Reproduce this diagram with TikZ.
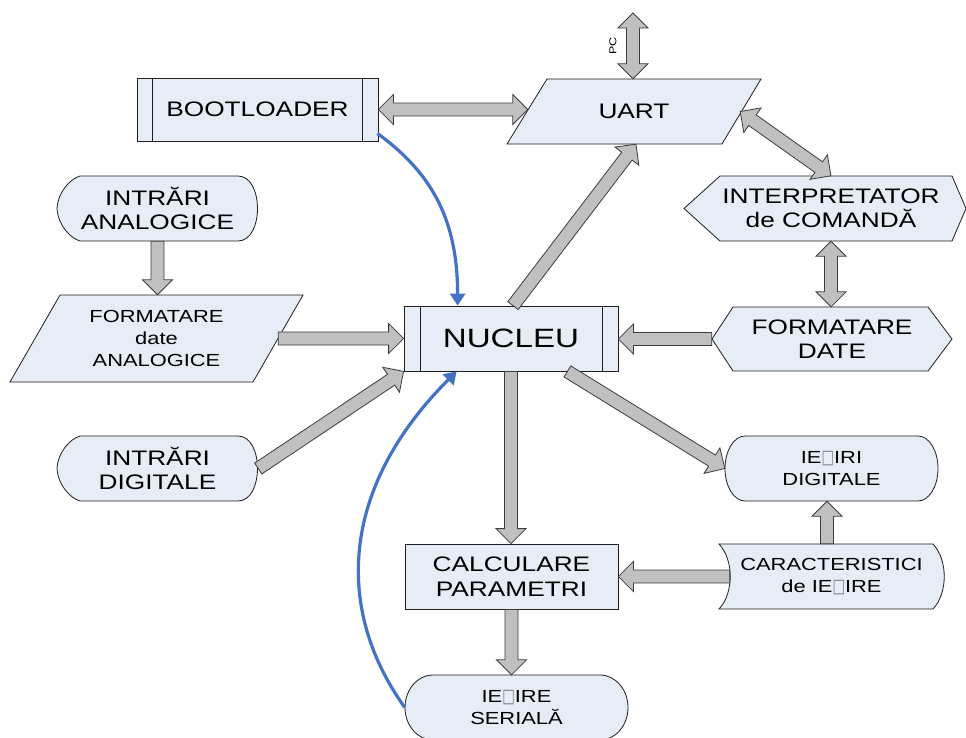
\documentclass[tikz,border=0pt]{standalone}
\usepackage{fontspec}
\setmainfont{Liberation Sans}[FakeStretch=1.25]
\newfontfamily\symfont{DejaVu Sans}
\usetikzlibrary{calc,arrows.meta}

\definecolor{boxfill}{RGB}{231,237,247}
\definecolor{boxline}{RGB}{30,30,30}
\definecolor{arrfill}{RGB}{192,192,192}
\definecolor{arrline}{RGB}{60,60,60}
\definecolor{flowblue}{RGB}{68,114,196}

\newcommand\bigtext{\fontsize{21pt}{24.5pt}\selectfont}
\newcommand\smalltext{\fontsize{17.5pt}{22pt}\selectfont}
\newcommand\nuctext{\fontsize{26.5pt}{30pt}\selectfont}
\newcommand\tinytext{\fontsize{10pt}{11pt}\selectfont}
% missing-glyph box as printed in the labels
\newcommand\gl{{\symfont\fontsize{19pt}{19pt}\selectfont\color{gray}\raisebox{0.5pt}{\scalebox{0.7}[1]{□}}}}

% block arrow geometry: shaft half width, head half width, head length
\def\sw{6.5}
\def\hw{15}
\def\hl{15}

% fat single-headed arrow from #1 to #2
\newcommand\blockarrow[2]{%
  \path let \p1=(#1), \p2=(#2),
    \n1={atan2(\y2-\y1,\x2-\x1)}, \n2={veclen(\x2-\x1,\y2-\y1)} in
    \pgfextra{\xdef\baX{\x1}\xdef\baY{\y1}\xdef\baA{\n1}\xdef\baL{\n2}};
  \draw[blk, shift={(\baX,\baY)}, rotate=\baA]
    (0,-\sw) -- ({\baL-\hl},-\sw) -- ({\baL-\hl},-\hw) -- ({\baL},0)
    -- ({\baL-\hl},\hw) -- ({\baL-\hl},\sw) -- (0,\sw) -- cycle;
}
% fat double-headed arrow between #1 and #2
\newcommand\blockarrowtwo[2]{%
  \path let \p1=(#1), \p2=(#2),
    \n1={atan2(\y2-\y1,\x2-\x1)}, \n2={veclen(\x2-\x1,\y2-\y1)} in
    \pgfextra{\xdef\baX{\x1}\xdef\baY{\y1}\xdef\baA{\n1}\xdef\baL{\n2}};
  \draw[blk, shift={(\baX,\baY)}, rotate=\baA]
    (0,0) -- (\hl,\hw) -- (\hl,\sw) -- ({\baL-\hl},\sw) -- ({\baL-\hl},\hw)
    -- ({\baL},0) -- ({\baL-\hl},-\hw) -- ({\baL-\hl},-\sw) -- (\hl,-\sw)
    -- (\hl,-\hw) -- cycle;
}

\begin{document}
\begin{tikzpicture}[x=1pt, y=1pt,
  shp/.style={draw=boxline, fill=boxfill, line width=0.8pt, line join=miter},
  box/.style={shp, inner sep=0pt, align=center},
  txt/.style={inner sep=0pt, align=center},
  blk/.style={draw=arrline, fill=arrfill, line width=0.8pt, line join=miter},
  flow/.style={draw=flowblue, line width=3.2pt, -{Triangle[length=12pt,width=15pt]}}]

\fill[white] (0,0) rectangle (966,-737);
\useasboundingbox (0,0) rectangle (966,-737);

% ---------- outlines of the flowchart symbols ----------
% UART (data parallelogram)
\draw[shp] (507,-144) -- (722,-144) -- (761,-79) -- (547,-79) -- cycle;
% command interpreter (preparation hexagon)
\draw[shp] (684,-208.5) -- (720,-176) -- (952,-176) -- (966,-208.5)
  -- (952,-241) -- (720,-241) -- cycle;
% data formatting hexagon
\draw[shp] (712,-339) -- (733,-307) -- (928,-307) -- (952,-339)
  -- (928,-371) -- (733,-371) -- cycle;
% analog data formatting parallelogram
\draw[shp] (10,-382) -- (253,-382) -- (303,-295) -- (60,-295) -- cycle;
% analog inputs (display symbol)
\draw[shp] (80,-176) -- (238,-176) .. controls (264,-176) and (264,-241) .. (238,-241)
  -- (80,-241) .. controls (70,-238) and (58,-225) .. (57,-208.5)
  .. controls (58,-192) and (70,-179) .. (80,-176) -- cycle;
% digital inputs (display symbol)
\draw[shp] (80,-436) -- (238,-436) .. controls (264,-436) and (264,-501) .. (238,-501)
  -- (80,-501) .. controls (70,-498) and (58,-485) .. (57,-468.5)
  .. controls (58,-452) and (70,-439) .. (80,-436) -- cycle;
% digital outputs (terminator)
\draw[shp] (745,-436) -- (918,-436)
  arc[start angle=90, end angle=-90, x radius=20, y radius=32.5]
  -- (745,-501) arc[start angle=270, end angle=90, x radius=20, y radius=32.5] -- cycle;
% output characteristics (stored data)
\draw[shp] (719,-544) -- (933,-544) .. controls (948,-560) and (948,-593) .. (933,-609)
  -- (719,-609) .. controls (734,-593) and (734,-560) .. (719,-544) -- cycle;
% serial output (terminator)
\draw[shp] (433,-675) -- (600,-675)
  arc[start angle=90, end angle=-90, x radius=28, y radius=32.5]
  -- (433,-740) arc[start angle=270, end angle=90, x radius=28, y radius=32.5] -- cycle;

% ---------- nodes ----------
\node[box, minimum width=241pt, minimum height=63pt, font=\bigtext] (boot) at (257.5,-109.5) {BOOTLOADER};
\draw[boxline, line width=0.8pt] ([xshift=16pt]boot.north west) -- ([xshift=16pt]boot.south west)
  ([xshift=-16pt]boot.north east) -- ([xshift=-16pt]boot.south east);

\node[txt, minimum width=254pt, minimum height=65pt, font=\bigtext] (uart) at (634,-111.5) {UART};

\node[txt, minimum width=294pt, minimum height=65pt, font=\bigtext] (interp) at (831,-208.5)
  {INTERPRETATOR\\de COMANDĂ};

\node[txt, minimum width=240pt, minimum height=64pt, font=\bigtext] (fdate) at (832,-339)
  {FORMATARE\\DATE};

\node[box, minimum width=214pt, minimum height=65pt, font=\nuctext] (nuc) at (511,-338.5) {NUCLEU};
\draw[boxline, line width=0.8pt] ([xshift=17pt]nuc.north west) -- ([xshift=17pt]nuc.south west)
  ([xshift=-16pt]nuc.north east) -- ([xshift=-16pt]nuc.south east);

\node[txt, minimum width=201pt, minimum height=65pt, font=\bigtext] (ian) at (157.5,-208.5)
  {INTRĂRI\\ANALOGICE};

\node[txt, minimum width=293pt, minimum height=87pt, font=\smalltext] (fan) at (156.5,-338.5)
  {FORMATARE\\date\\ANALOGICE};

\node[txt, minimum width=201pt, minimum height=65pt, font=\bigtext] (idig) at (157.5,-468.5)
  {INTRĂRI\\DIGITALE};

\node[txt, minimum width=213pt, minimum height=65pt, font=\smalltext] (odig) at (831.5,-468.5)
  {IE\gl IRI\\DIGITALE};

\node[txt, minimum width=225pt, minimum height=65pt, font=\smalltext] (car) at (831.5,-576.5)
  {CARACTERISTICI\\de IE\gl IRE};

\node[box, minimum width=213pt, minimum height=65pt, font=\bigtext] (calc) at (511.5,-576.5)
  {CALCULARE\\PARAMETRI};

\node[txt, minimum width=223pt, minimum height=65pt, font=\smalltext] (ser) at (516.5,-707.5)
  {IE\gl IRE\\SERIALĂ};

\coordinate (pc) at (633,-13);
\node[txt, rotate=90, font=\tinytext] (pclbl) at (613,-46) {PC};

% ---------- block arrows ----------
\blockarrowtwo{pc}{$(uart.north)+(-1,0)$}
\blockarrowtwo{boot.east}{$(boot.east -| uart.west)+(21,0)$}
\blockarrowtwo{$(uart.east)+(-21,0)$}{interp.north}
\blockarrowtwo{interp.south}{interp.south |- fdate.north}
\blockarrow{fdate.west}{fdate.west -| nuc.east}
\blockarrow{$(nuc.north)+(2,0)$}{$(uart.south)+(2,0)$}
\blockarrow{$(fan.east)+(-25,0)$}{fan.east -| nuc.west}
\blockarrow{ian.south}{ian.south |- fan.north}
\blockarrow{idig.east}{nuc.south west}
\blockarrow{$(nuc.south east)+(-51,0)$}{odig.west}
\blockarrow{nuc.south}{nuc.south |- calc.north}
\blockarrow{$(car.west)+(11,0)$}{car.west -| calc.east}
\blockarrow{$(car.north)+(-4.5,0)$}{$(car.north |- odig.south)+(-4.5,0)$}
\blockarrow{calc.south}{calc.south |- ser.north}

% ---------- control flow ----------
\draw[flow] ($(boot.south east)+(-1,8)$) .. controls +(55,-40) and +(0,85) .. ($(nuc.north west)+(54,0)$);
\draw[flow] (ser.west) .. controls +(-70,97.5) and +(-117,-117) .. ($(nuc.south west)+(53,0)$);
\end{tikzpicture}
\end{document}
